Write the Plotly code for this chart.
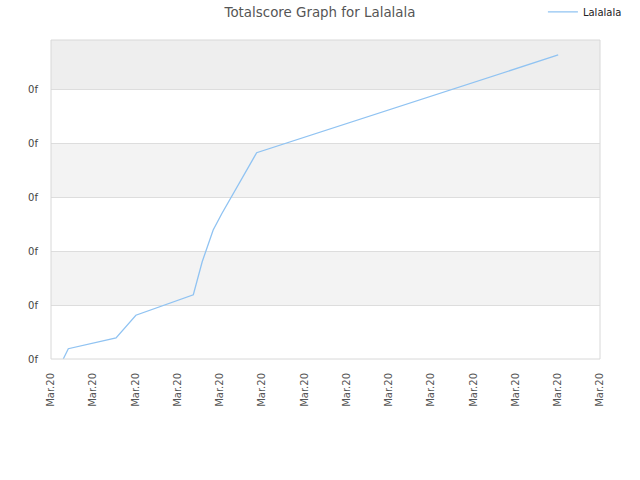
import plotly.graph_objects as go

# data (x in tick-interval units, y in gridline units)
x_vals = [0.29, 0.41, 1.54, 2.01, 3.37, 3.58, 3.84, 4.05, 4.87, 12.01]
y_vals = [0.0, 0.19, 0.39, 0.81, 1.19, 1.80, 2.39, 2.70, 3.82, 5.63]
x_tick_vals = list(range(14))
x_tick_text = ["Mar.20"] * 14
y_tick_vals = [0, 1, 2, 3, 4, 5]
y_tick_text = ["0f"] * 6
series_name = "Lalalala"
title_text = "Totalscore Graph for Lalalala"

y_top = 319 / 54

fig = go.Figure()
fig.add_trace(go.Scatter(
    x=x_vals, y=y_vals, mode="lines", name=series_name,
    line=dict(color="#90c3f2", width=1.3),
))

shapes = []
bands = [(1, 2, "#f3f3f3"), (3, 4, "#f3f3f3"), (5, y_top, "#eeeeee")]
for y0, y1, c in bands:
    shapes.append(dict(type="rect", xref="paper", yref="y", x0=0, x1=1, y0=y0, y1=y1,
                       fillcolor=c, line=dict(width=0), layer="below"))
shapes.append(dict(type="rect", xref="paper", yref="paper", x0=0, x1=1, y0=0, y1=1,
                   line=dict(color="#d8d8d8", width=1), fillcolor="rgba(0,0,0,0)"))

fig.update_layout(
    width=640, height=480,
    margin=dict(l=51, r=40, t=40, b=121, autoexpand=False),
    paper_bgcolor="white", plot_bgcolor="white",
    font=dict(family="DejaVu Sans", size=10, color="#444"),
    title=dict(text=title_text, x=0.5, xanchor="center", y=0.975, yanchor="middle",
               font=dict(size=13.4, color="#555")),
    showlegend=True,
    legend=dict(x=0.896, xanchor="left", y=1.088, yanchor="middle", orientation="h",
                itemwidth=30, font=dict(size=10, color="#222"), bgcolor="rgba(0,0,0,0)"),
    shapes=shapes,
    hovermode=False,
    xaxis=dict(range=[0, 13], tickvals=x_tick_vals, ticktext=x_tick_text, tickangle=-90,
               showgrid=False, zeroline=False, showline=False, ticks="", automargin=False,
               ticklabelstandoff=11, tickfont=dict(size=10, color="#555")),
    yaxis=dict(range=[0, y_top], tickvals=y_tick_vals, ticktext=y_tick_text,
               showgrid=True, gridcolor="#dddddd", gridwidth=1, zeroline=False,
               showline=False, ticks="", automargin=False, ticklabelstandoff=12,
               tickfont=dict(size=10, color="#444")),
)

fig.write_html("out.html", config={"displayModeBar": False},
               post_script="document.body.style.margin='0';")
